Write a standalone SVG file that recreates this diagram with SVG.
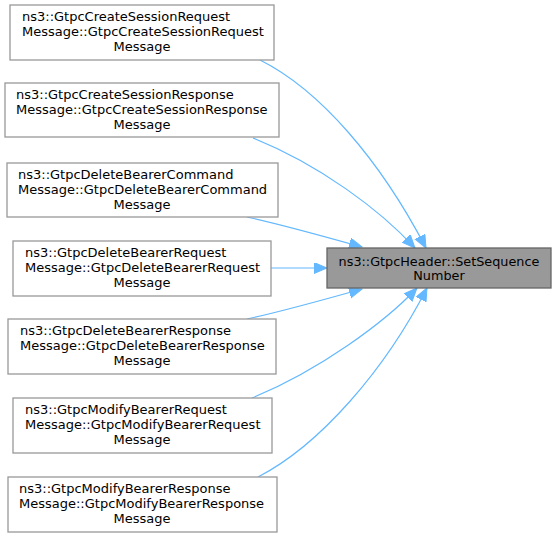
<svg xmlns="http://www.w3.org/2000/svg" width="556" height="537" viewBox="0 0 556 537">
<style>
.box{fill:#ffffff;stroke:#999999;stroke-width:1.3}
.tgt{fill:#999999;stroke:#666666;stroke-width:1.3}
text{font-family:"DejaVu Sans","Liberation Sans",sans-serif;font-size:13px;fill:#000000}
.t{font-size:12.8px}
.m{text-anchor:middle}
.e{fill:none;stroke:#63b8ff;stroke-width:1.2;marker-end:url(#ah)}
</style>
<defs>
<marker id="ah" markerUnits="userSpaceOnUse" markerWidth="14" markerHeight="12" refX="13" refY="5.5" orient="auto">
<path d="M0,0 L13,5.5 L0,11 z" fill="#63b8ff" stroke="#63b8ff" stroke-width="1"/>
</marker>
</defs>
<rect width="556" height="537" fill="#ffffff"/>
<g id="edges">
<path class="e" d="M260,60 C320,90 380,160 426,248"/>
<path class="e" d="M253,138 C320,165 380,210 415,248"/>
<path class="e" d="M247,217 C280,224 330,238 362,247"/>
<path class="e" d="M271,268 L327,268"/>
<path class="e" d="M247,319 C280,312 330,298 362,289"/>
<path class="e" d="M252,398 C320,370 385,322 417,288"/>
<path class="e" d="M258,477 C320,445 385,370 427,288"/>
</g>
<g id="target">
<rect class="tgt" x="327" y="248" width="224" height="40"/>
<text class="m t" x="439" y="265.5">ns3::GtpcHeader::SetSequence</text>
<text class="m t" x="439" y="280">Number</text>
</g>
<g id="n1">
<rect class="box" x="10" y="5" width="264" height="55"/>
<text x="22" y="21">ns3::GtpcCreateSessionRequest</text>
<text x="22" y="36">Message::GtpcCreateSessionRequest</text>
<text class="m" x="142" y="51">Message</text>
</g>
<g id="n2">
<rect class="box" x="5" y="83" width="274" height="54"/>
<text x="16" y="99">ns3::GtpcCreateSessionResponse</text>
<text x="16" y="114">Message::GtpcCreateSessionResponse</text>
<text class="m" x="142" y="129">Message</text>
</g>
<g id="n3">
<rect class="box" x="7" y="163" width="271" height="54"/>
<text x="18" y="179">ns3::GtpcDeleteBearerCommand</text>
<text x="18" y="194">Message::GtpcDeleteBearerCommand</text>
<text class="m" x="142" y="209">Message</text>
</g>
<g id="n4">
<rect class="box" x="13" y="241" width="258" height="55"/>
<text x="25" y="257">ns3::GtpcDeleteBearerRequest</text>
<text x="25" y="272">Message::GtpcDeleteBearerRequest</text>
<text class="m" x="142" y="287">Message</text>
</g>
<g id="n5">
<rect class="box" x="8" y="319" width="268" height="55"/>
<text x="20" y="335">ns3::GtpcDeleteBearerResponse</text>
<text x="20" y="350">Message::GtpcDeleteBearerResponse</text>
<text class="m" x="142" y="365">Message</text>
</g>
<g id="n6">
<rect class="box" x="13" y="398" width="259" height="55"/>
<text x="25" y="414">ns3::GtpcModifyBearerRequest</text>
<text x="25" y="429">Message::GtpcModifyBearerRequest</text>
<text class="m" x="142" y="444">Message</text>
</g>
<g id="n7">
<rect class="box" x="8" y="477" width="269" height="55"/>
<text x="19" y="493">ns3::GtpcModifyBearerResponse</text>
<text x="19" y="508">Message::GtpcModifyBearerResponse</text>
<text class="m" x="142" y="523">Message</text>
</g>
</svg>
